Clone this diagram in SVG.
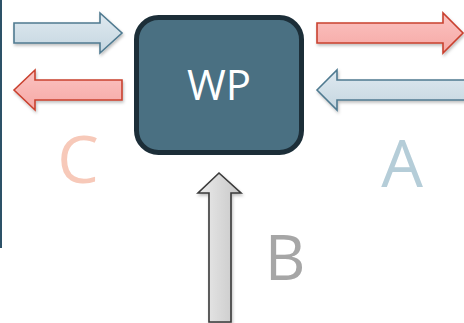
<svg xmlns="http://www.w3.org/2000/svg" width="464" height="323" viewBox="0 0 464 323">
<defs>
<linearGradient id="gBlue" x1="0" y1="0" x2="0" y2="1"><stop offset="0" stop-color="#dfe9f0"/><stop offset="1" stop-color="#c5d6e0"/></linearGradient>
<linearGradient id="gRed" x1="0" y1="0" x2="0" y2="1"><stop offset="0" stop-color="#fbc3c1"/><stop offset="1" stop-color="#f6a8a5"/></linearGradient>
<linearGradient id="gGrey" x1="0" y1="0" x2="1" y2="0"><stop offset="0" stop-color="#ececec"/><stop offset="1" stop-color="#c6c6c6"/></linearGradient>
<filter id="sh" x="-20%" y="-20%" width="140%" height="140%"><feDropShadow dx="1" dy="2" stdDeviation="1.5" flood-color="#000" flood-opacity="0.25"/></filter>
</defs>
<style>
.blue{fill:url(#gBlue);stroke:#4f7a90;stroke-width:1.6;stroke-linejoin:miter;filter:url(#sh)}
.red{fill:url(#gRed);stroke:#c9412f;stroke-width:1.6;filter:url(#sh)}
.grey{fill:url(#gGrey);stroke:#3a3a3a;stroke-width:1.6;filter:url(#sh)}
.lbl{font-family:"Open Sans","Noto Sans",sans-serif;text-anchor:middle}
</style>
<rect x="0" y="0" width="2" height="248" fill="#2d5268"/>
<g id="connectors">
<polygon class="blue" points="14,23 100,23 100,13 122,33 100,53 100,43 14,43"/>
<polygon class="red" points="14,90 35,70 35,80 122,80 122,100 35,100 35,110"/>
<polygon class="red" points="317,23 443,23 443,13 463,33 443,53 443,43 317,43"/>
<polygon class="blue" points="317,90 337,70 337,80 466,80 466,100 337,100 337,110"/>
<polygon class="grey" points="219,173 241,193 231,193 231,322 209,322 209,193 198,193"/>
</g>
<g id="WP">
<rect x="136.5" y="17.5" width="165" height="135" rx="22" ry="22" fill="#4a7082" stroke="#1c2e38" stroke-width="5"/>
<text class="lbl" x="219" y="100" font-size="42" fill="#ffffff">WP</text>
</g>
<g id="labels">
<text class="lbl" x="78" y="183" font-size="66" fill="#f7c9b9">C</text>
<text class="lbl" x="402" y="187" font-size="66" fill="#b5cdd8">A</text>
<text class="lbl" x="285" y="280" font-size="63" fill="#a6a6a6">B</text>
</g>
</svg>
